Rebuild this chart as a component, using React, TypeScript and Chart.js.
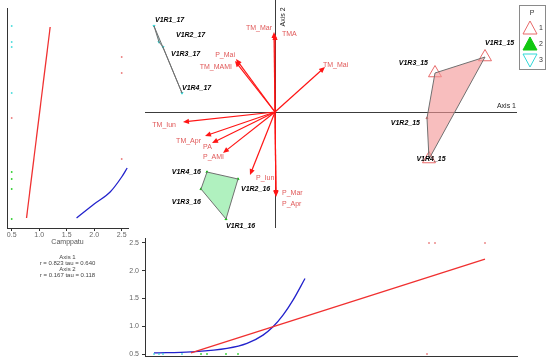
import React, { useEffect, useRef } from 'react';
import { Chart, registerables } from 'chart.js';

Chart.register(...registerables);

const FONT = '"Liberation Sans", Arial, sans-serif';

// ---------- data ----------
const SAMPLES = ['V1R1_15', 'V1R2_15', 'V1R3_15', 'V1R4_15', 'V1R1_16', 'V1R2_16', 'V1R3_16', 'V1R4_16', 'V1R1_17', 'V1R2_17', 'V1R3_17', 'V1R4_17'];
const AXIS1 = [2.10, 1.52, 1.60, 1.54, -0.49, -0.37, -0.74, -0.68, -1.21, -1.16, -1.12, -0.93];
const AXIS2 = [0.55, -0.06, 0.39, -0.47, -1.07, -0.67, -0.77, -0.60, 0.86, 0.70, 0.65, 0.19];
const GROUP_P = [1, 1, 1, 1, 2, 2, 2, 2, 3, 3, 3, 3];
const CAMPPATU = [2.5, 0.5, 2.5, 2.5, 0.5, 0.5, 0.5, 0.5, 0.5, 0.5, 0.5, 0.5];
const GROUPS = [1, 2, 3];
const HULL_ORDER = [[0, 2, 1, 3], [7, 5, 4, 6], [8, 11, 10, 9]];

const VARIABLES = ['TM_Mar', 'TMA', 'P_Mai', 'TM_MAMI', 'TM_Mai', 'TM_Iun', 'TM_Apr', 'PA', 'P_AMI', 'P_Iun', 'P_Mar', 'P_Apr'];
const VEC_AXIS1 = [-0.01, 0.00, -0.39, -0.40, 0.50, -0.92, -0.70, -0.63, -0.52, -0.25, 0.01, 0.01];
const VEC_AXIS2 = [0.80, 0.78, 0.53, 0.51, 0.45, -0.10, -0.24, -0.31, -0.41, -0.63, -0.84, -0.85];

const LEFT_RED_CAMP = [0.77, 1.20];
const LEFT_RED_AX2 = [-1.06, 0.85];
const LEFT_BLUE_CAMP = [1.68, 2.0, 2.29, 2.5, 2.6];
const LEFT_BLUE_AX2 = [-1.06, -0.92, -0.80, -0.65, -0.56];

const BOTTOM_RED_AX1 = [-0.84, 2.10];
const BOTTOM_RED_CAMP = [0.52, 2.21];
const BOTTOM_BLUE_AX1 = [-1.21, -0.84, -0.48, -0.28, -0.12, -0.02, 0.08, 0.18, 0.30];
const BOTTOM_BLUE_CAMP = [0.52, 0.54, 0.60, 0.69, 0.84, 0.99, 1.20, 1.47, 1.86];

const CAMP_TICKS = [0.5, 1.0, 1.5, 2.0, 2.5];
const STAT_AXES = ['Axis 1', 'Axis 2'];
const STAT_R = [0.823, 0.167];
const STAT_TAU = [0.640, 0.118];

// ---------- ranges & styles ----------
const AX1_RANGE = { min: -1.30, max: 2.42 };
const AX2_RANGE = { min: -1.16, max: 1.12 };
const LEFT_AX2_RANGE = { min: -1.16, max: 1.04 };
const LEFT_CAMP_RANGE = { min: 0.415, max: 2.615 };
const BOTTOM_CAMP_RANGE = { min: 0.464, max: 2.59 };

const GROUP_MARK = ['#e86a6a', '#10c810', '#30d8d8'];
const GROUP_FILL = ['rgba(244,150,150,0.62)', 'rgba(150,236,170,0.75)', 'rgba(110,225,225,0.6)'];
const GROUP_MARK_FILL = ['rgba(0,0,0,0)', '#10c810', 'rgba(0,0,0,0)'];
const VAR_COLOR = '#e05858';
const ARROW_COLOR = '#ff1515';

const SAMPLE_LABEL_STYLE: { dx: number; dy: number; align: CanvasTextAlign }[] = [
  { dx: 0, dy: -14, align: 'left' },
  { dx: -7, dy: 5, align: 'right' },
  { dx: -7, dy: -10, align: 'right' },
  { dx: 2, dy: 0, align: 'center' },
  { dx: 0, dy: 7, align: 'left' },
  { dx: 3, dy: 10, align: 'left' },
  { dx: 0, dy: 13, align: 'right' },
  { dx: -6, dy: 0, align: 'right' },
  { dx: 1, dy: -6, align: 'left' },
  { dx: 17, dy: -7, align: 'left' },
  { dx: 8, dy: 7, align: 'left' },
  { dx: 0, dy: -5, align: 'left' },
];

const VAR_LABEL_STYLE: { dx: number; dy: number; align: CanvasTextAlign }[] = [
  { dx: -2, dy: -4, align: 'right' },
  { dx: 7, dy: 0, align: 'left' },
  { dx: -1, dy: -4, align: 'right' },
  { dx: -3, dy: 6, align: 'right' },
  { dx: -2, dy: -2, align: 'left' },
  { dx: -7, dy: 3, align: 'right' },
  { dx: -4, dy: 5, align: 'right' },
  { dx: -9, dy: 4, align: 'left' },
  { dx: -20, dy: 4, align: 'left' },
  { dx: 6, dy: 3, align: 'left' },
  { dx: 6, dy: -3, align: 'left' },
  { dx: 6, dy: 7, align: 'left' },
];

const markRadius = (c: number) => 1.2 + (c - 0.5) * 3.15;

const idx = (g: number) => SAMPLES.map((_, i) => i).filter((i) => GROUP_P[i] === g);

// ---------- plugins ----------
const mainOverlay = {
  id: 'mainOverlay',
  afterDatasetsDraw(chart: any) {
    const { ctx, scales, chartArea } = chart;
    const xs = scales.x;
    const ys = scales.y;
    const ox = xs.getPixelForValue(0);
    const oy = ys.getPixelForValue(0);
    ctx.save();
    // vectors
    VARIABLES.forEach((name, i) => {
      const tx = xs.getPixelForValue(VEC_AXIS1[i]);
      const ty = ys.getPixelForValue(VEC_AXIS2[i]);
      const ang = Math.atan2(ty - oy, tx - ox);
      const c = Math.cos(ang);
      const s = Math.sin(ang);
      ctx.strokeStyle = ARROW_COLOR;
      ctx.fillStyle = ARROW_COLOR;
      ctx.lineWidth = 1.2;
      ctx.beginPath();
      ctx.moveTo(ox, oy);
      ctx.lineTo(tx - c * 3, ty - s * 3);
      ctx.stroke();
      const L = 6;
      const W = 2.6;
      ctx.beginPath();
      ctx.moveTo(tx, ty);
      ctx.lineTo(tx - L * c + W * s, ty - L * s - W * c);
      ctx.lineTo(tx - L * c - W * s, ty - L * s + W * c);
      ctx.closePath();
      ctx.fill();
      const st = VAR_LABEL_STYLE[i];
      ctx.font = `7px ${FONT}`;
      ctx.fillStyle = VAR_COLOR;
      ctx.textAlign = st.align;
      ctx.textBaseline = 'middle';
      ctx.fillText(name, tx + st.dx, ty + st.dy);
    });
    // sample labels
    ctx.font = `italic bold 7px ${FONT}`;
    ctx.fillStyle = '#000';
    ctx.textBaseline = 'middle';
    SAMPLES.forEach((name, i) => {
      const px = xs.getPixelForValue(AXIS1[i]);
      const py = ys.getPixelForValue(AXIS2[i]);
      const st = SAMPLE_LABEL_STYLE[i];
      ctx.textAlign = st.align;
      ctx.fillText(name, px + st.dx, py + st.dy);
    });
    // axis titles
    ctx.font = `7px ${FONT}`;
    ctx.fillStyle = '#222';
    ctx.textAlign = 'right';
    ctx.textBaseline = 'middle';
    ctx.fillText('Axis 1', chartArea.right - 1, oy - 6);
    ctx.save();
    ctx.translate(ox + 8, chartArea.top + 17);
    ctx.rotate(-Math.PI / 2);
    ctx.textAlign = 'center';
    ctx.fillText('Axis 2', 0, 0);
    ctx.restore();
    // legend
    const lx = 519;
    const ly = 5;
    ctx.fillStyle = '#fff';
    ctx.fillRect(lx, ly, 27, 65);
    ctx.strokeStyle = '#8a8a8a';
    ctx.lineWidth = 1;
    ctx.strokeRect(lx + 0.5, ly + 0.5, 26, 64);
    ctx.fillStyle = '#333';
    ctx.textAlign = 'center';
    ctx.fillText('P', lx + 13, ly + 8);
    GROUPS.forEach((g, k) => {
      const cx = lx + 11;
      const cy = ly + 23 + k * 16;
      const half = 7;
      ctx.beginPath();
      if (g === 3) {
        ctx.moveTo(cx - half, cy - 6);
        ctx.lineTo(cx + half, cy - 6);
        ctx.lineTo(cx, cy + 7);
      } else {
        ctx.moveTo(cx, cy - 7);
        ctx.lineTo(cx + half, cy + 6);
        ctx.lineTo(cx - half, cy + 6);
      }
      ctx.closePath();
      if (g === 2) {
        ctx.fillStyle = GROUP_MARK[1];
        ctx.fill();
      }
      ctx.strokeStyle = GROUP_MARK[g - 1];
      ctx.lineWidth = 1;
      ctx.stroke();
      ctx.fillStyle = '#333';
      ctx.textAlign = 'left';
      ctx.fillText(String(g), lx + 20, cy);
    });
    ctx.restore();
  },
};

const leftOverlay = {
  id: 'leftOverlay',
  afterDraw(chart: any) {
    const { ctx, chartArea } = chart;
    const cx = (chartArea.left + chartArea.right) / 2;
    ctx.save();
    ctx.font = `6px ${FONT}`;
    ctx.fillStyle = '#444';
    ctx.textAlign = 'center';
    ctx.textBaseline = 'middle';
    let y = chartArea.bottom + 29;
    STAT_AXES.forEach((a, i) => {
      ctx.fillText(a, cx, y);
      ctx.fillText(`r = ${STAT_R[i].toFixed(3)} tau = ${STAT_TAU[i].toFixed(3)}`, cx, y + 6);
      y += 12;
    });
    ctx.restore();
  },
};

const zeroOnly = (axis: any) => {
  axis.ticks = [{ value: 0 }];
};
const campTicks = (axis: any) => {
  axis.ticks = CAMP_TICKS.map((v) => ({ value: v }));
};

// ---------- configs ----------
function mainConfig(): any {
  const hulls = GROUPS.map((g, k) => {
    const order = HULL_ORDER[k];
    const pts = [...order, order[0]].map((i) => ({ x: AXIS1[i], y: AXIS2[i] }));
    return {
      data: pts,
      borderColor: '#707070',
      borderWidth: 1,
      backgroundColor: GROUP_FILL[k],
      fill: 'shape',
      pointRadius: 0,
      tension: 0,
    };
  });
  const marks = GROUPS.map((g, k) => {
    const ids = idx(g);
    return {
      data: ids.map((i) => ({ x: AXIS1[i], y: AXIS2[i] })),
      showLine: false,
      pointStyle: 'triangle',
      pointRadius: ids.map((i) => markRadius(CAMPPATU[i])),
      pointRotation: g === 3 ? 180 : 0,
      borderColor: GROUP_MARK[k],
      backgroundColor: GROUP_MARK_FILL[k],
      pointBorderWidth: 1,
      clip: false,
    };
  });
  return {
    type: 'line',
    data: { datasets: [...hulls, ...marks] },
    options: {
      responsive: false,
      animation: false,
      events: [],
      layout: { autoPadding: false, padding: { left: 145, right: 33, top: 0, bottom: 136 } },
      plugins: { legend: { display: false }, tooltip: { enabled: false } },
      scales: {
        x: {
          type: 'linear', position: 'bottom', ...AX1_RANGE, bounds: 'data',
          afterBuildTicks: zeroOnly,
          afterFit: (s: any) => { s.height = 0; },
          ticks: { display: false },
          grid: { color: '#3c3c3c', lineWidth: 1, drawTicks: false },
          border: { display: false },
        },
        y: {
          type: 'linear', position: 'left', ...AX2_RANGE, bounds: 'data',
          afterBuildTicks: zeroOnly,
          afterFit: (s: any) => { s.width = 0; },
          ticks: { display: false },
          grid: { color: '#3c3c3c', lineWidth: 1, drawTicks: false },
          border: { display: false },
        },
      },
    },
    plugins: [mainOverlay],
  };
}

function sidePoints(xVals: number[], yVals: number[]) {
  return GROUPS.map((g, k) => {
    const ids = idx(g);
    return {
      data: ids.map((i) => ({ x: xVals[i], y: yVals[i] })),
      showLine: false,
      pointStyle: 'rect',
      pointRadius: 1.1,
      borderWidth: 0,
      pointBorderWidth: 0,
      backgroundColor: GROUP_MARK[k],
      borderColor: GROUP_MARK[k],
      clip: false,
    };
  });
}

function lineDs(xs: number[], ys: number[], color: string, curve: boolean) {
  return {
    data: xs.map((x, i) => ({ x, y: ys[i] })),
    borderColor: color,
    borderWidth: 1.3,
    pointRadius: 0,
    fill: false,
    cubicInterpolationMode: curve ? 'monotone' : 'default',
    clip: false,
  };
}

const tickFont = { size: 7, family: FONT };

function leftConfig(): any {
  return {
    type: 'line',
    data: {
      datasets: [
        ...sidePoints(CAMPPATU, AXIS2),
        lineDs(LEFT_RED_CAMP, LEFT_RED_AX2, '#f03030', false),
        lineDs(LEFT_BLUE_CAMP, LEFT_BLUE_AX2, '#2222cc', true),
      ],
    },
    options: {
      responsive: false,
      animation: false,
      events: [],
      layout: { autoPadding: false, padding: { left: 7, right: 422, top: 8, bottom: 118 } },
      plugins: { legend: { display: false }, tooltip: { enabled: false } },
      scales: {
        x: {
          type: 'linear', position: 'bottom', ...LEFT_CAMP_RANGE, bounds: 'data',
          afterBuildTicks: campTicks,
          afterFit: (s: any) => { s.height = 18; },
          ticks: { font: tickFont, color: '#666', padding: 0, maxRotation: 0, autoSkip: false, callback: (v: any) => Number(v).toFixed(1) },
          grid: { drawOnChartArea: false, drawTicks: true, tickLength: 3, color: '#333' },
          border: { display: true, color: '#333', width: 1 },
          title: { display: true, text: 'Camppatu', color: '#555', font: { size: 7, family: FONT, lineHeight: 1 }, padding: 0 },
        },
        y: {
          type: 'linear', position: 'left', ...LEFT_AX2_RANGE, bounds: 'data',
          afterFit: (s: any) => { s.width = 0; },
          ticks: { display: false },
          grid: { display: false },
          border: { display: true, color: '#333', width: 1 },
        },
      },
    },
    plugins: [leftOverlay],
  };
}

function bottomConfig(): any {
  return {
    type: 'line',
    data: {
      datasets: [
        ...sidePoints(AXIS1, CAMPPATU),
        lineDs(BOTTOM_RED_AX1, BOTTOM_RED_CAMP, '#f03030', false),
        lineDs(BOTTOM_BLUE_AX1, BOTTOM_BLUE_CAMP, '#2222cc', true),
      ],
    },
    options: {
      responsive: false,
      animation: false,
      events: [],
      layout: { autoPadding: false, padding: { left: 125, right: 33, top: 238, bottom: 8 } },
      plugins: { legend: { display: false }, tooltip: { enabled: false } },
      scales: {
        x: {
          type: 'linear', position: 'bottom', ...AX1_RANGE, bounds: 'data',
          afterFit: (s: any) => { s.height = 0; },
          ticks: { display: false },
          grid: { display: false },
          border: { display: true, color: '#333', width: 1 },
        },
        y: {
          type: 'linear', position: 'left', ...BOTTOM_CAMP_RANGE, bounds: 'data',
          afterBuildTicks: campTicks,
          afterFit: (s: any) => { s.width = 20; },
          ticks: { font: tickFont, color: '#666', padding: 3, autoSkip: false, callback: (v: any) => Number(v).toFixed(1) },
          grid: { drawOnChartArea: false, drawTicks: true, tickLength: 3, color: '#333' },
          border: { display: true, color: '#333', width: 1 },
        },
      },
    },
  };
}

export default function App() {
  const leftRef = useRef<HTMLCanvasElement>(null);
  const bottomRef = useRef<HTMLCanvasElement>(null);
  const mainRef = useRef<HTMLCanvasElement>(null);

  useEffect(() => {
    const charts = [
      new Chart(leftRef.current as HTMLCanvasElement, leftConfig()),
      new Chart(bottomRef.current as HTMLCanvasElement, bottomConfig()),
      new Chart(mainRef.current as HTMLCanvasElement, mainConfig()),
    ];
    return () => charts.forEach((c) => c.destroy());
  }, []);

  const cs: React.CSSProperties = { position: 'absolute', left: 0, top: 0, width: 550, height: 364 };
  return (
    <div style={{ position: 'fixed', left: 0, top: 0, width: 550, height: 364, background: '#fff' }}>
      <canvas ref={leftRef} width={550} height={364} style={cs} />
      <canvas ref={bottomRef} width={550} height={364} style={cs} />
      <canvas ref={mainRef} width={550} height={364} style={cs} />
    </div>
  );
}
